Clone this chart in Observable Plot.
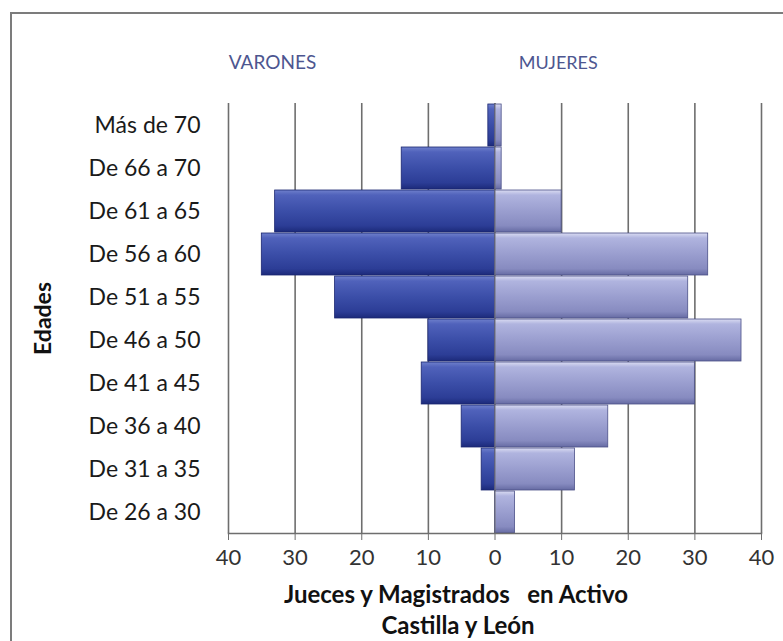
<!DOCTYPE html>
<html>
<head>
<meta charset="utf-8">
<script src="https://cdn.jsdelivr.net/npm/d3@7"></script>
<script src="https://cdn.jsdelivr.net/npm/@observablehq/plot@0.6"></script>
<style>
  html, body { margin: 0; padding: 0; background: #fff; }
  #wrap { position: relative; width: 783px; height: 641px; overflow: hidden; }
  #border { position: absolute; left: 10px; top: 12px; width: 900px; height: 900px;
            border-left: 2px solid #7c7c7c; border-top: 2px solid #7c7c7c; pointer-events: none; }
  svg text { white-space: pre; }
</style>
</head>
<body>
<div id="wrap"><div id="border"></div></div>
<script>
const ages = ["Más de 70", "De 66 a 70", "De 61 a 65", "De 56 a 60", "De 51 a 55",
              "De 46 a 50", "De 41 a 45", "De 36 a 40", "De 31 a 35", "De 26 a 30"];
const varones = [1, 14, 33, 35, 24, 10, 11, 5, 2, 0];
const mujeres = [1, 1, 10, 32, 29, 37, 30, 17, 12, 3];
const xTicks = [-40, -30, -20, -10, 0, 10, 20, 30, 40];
const xTitle = "Jueces y Magistrados   en Activo";
const xSubtitle = "Castilla y León";
const yTitle = "Edades";
const leftLabel = "VARONES";
const rightLabel = "MUJERES";

const rows = ages.map((a, i) => ({age: a, m: varones[i], f: mujeres[i]}));
const font = "Lato, 'Open Sans', sans-serif";

const chart = Plot.plot({
  width: 783,
  height: 641,
  marginLeft: 228,
  marginRight: 22,
  marginTop: 103,
  marginBottom: 108,
  style: {fontFamily: font, background: "transparent", overflow: "visible"},
  x: {domain: [-40, 40]},
  y: {domain: ages, paddingInner: 0.03, paddingOuter: 0.01},
  marks: [
    Plot.ruleX(xTicks, {stroke: "#6e6e6e", strokeWidth: 1.6}),
    Plot.barX(rows, {y: "age", x1: 0, x2: d => -d.m, fill: "url(#gradM)", stroke: "#1b2670", strokeWidth: 0.8}),
    Plot.barX(rows, {y: "age", x1: 0, x2: "f", fill: "url(#gradF)", stroke: "#4b5088", strokeWidth: 0.8}),
    Plot.ruleX([0], {stroke: "#6e6e6e", strokeWidth: 1.2, strokeOpacity: 0.8}),
    Plot.frame({anchor: "bottom", stroke: "#6e6e6e", strokeWidth: 1.6}),
    Plot.axisX({ticks: xTicks, tickFormat: d => Math.abs(d), tickSize: 7, tickPadding: 9,
                fontSize: 22, stroke: "#6e6e6e", fill: "#333", label: null}),
    Plot.axisY({tickSize: 0, tickPadding: 28, fontSize: 23, fill: "#1a1a1a", label: null}),
    Plot.text([yTitle], {frameAnchor: "left", rotate: -90, dx: -185, textAnchor: "middle", lineAnchor: "middle",
                         fontSize: 23, fontWeight: "bold", fill: "#111"}),
    Plot.text([leftLabel], {x: [-33.4], frameAnchor: "top", dy: -41, lineAnchor: "middle",
                            fontSize: 19, fill: "#4d5690"}),
    Plot.text([rightLabel], {x: [9.5], frameAnchor: "top", dy: -40, lineAnchor: "middle",
                             fontSize: 18, fill: "#4d5690"}),
    Plot.text([xTitle], {frameAnchor: "bottom", dx: -39, dy: 62, textAnchor: "middle", lineAnchor: "middle",
                         fontSize: 24, fontWeight: "bold", fill: "#111"}),
    Plot.text([xSubtitle], {frameAnchor: "bottom", dx: -37, dy: 93, textAnchor: "middle", lineAnchor: "middle",
                            fontSize: 24, fontWeight: "bold", fill: "#111"})
  ]
});

const ns = "http://www.w3.org/2000/svg";
const defs = document.createElementNS(ns, "defs");
function grad(id, stops) {
  const g = document.createElementNS(ns, "linearGradient");
  g.setAttribute("id", id);
  g.setAttribute("x1", "0"); g.setAttribute("y1", "0");
  g.setAttribute("x2", "0"); g.setAttribute("y2", "1");
  for (const [o, c] of stops) {
    const s = document.createElementNS(ns, "stop");
    s.setAttribute("offset", o);
    s.setAttribute("stop-color", c);
    g.appendChild(s);
  }
  defs.appendChild(g);
}
grad("gradM", [["0", "#6f80cc"], ["0.12", "#5062bb"], ["0.5", "#3b4ea8"], ["0.85", "#2c3d96"], ["1", "#1c2a7a"]]);
grad("gradF", [["0", "#dadcf2"], ["0.12", "#b0b4df"], ["0.5", "#9a9ecf"], ["0.85", "#878bc0"], ["1", "#666ba3"]]);
chart.insertBefore(defs, chart.firstChild);
chart.style.position = "absolute";
chart.style.left = "0";
chart.style.top = "0";
document.getElementById("wrap").insertBefore(chart, document.getElementById("border"));
</script>
</body>
</html>
